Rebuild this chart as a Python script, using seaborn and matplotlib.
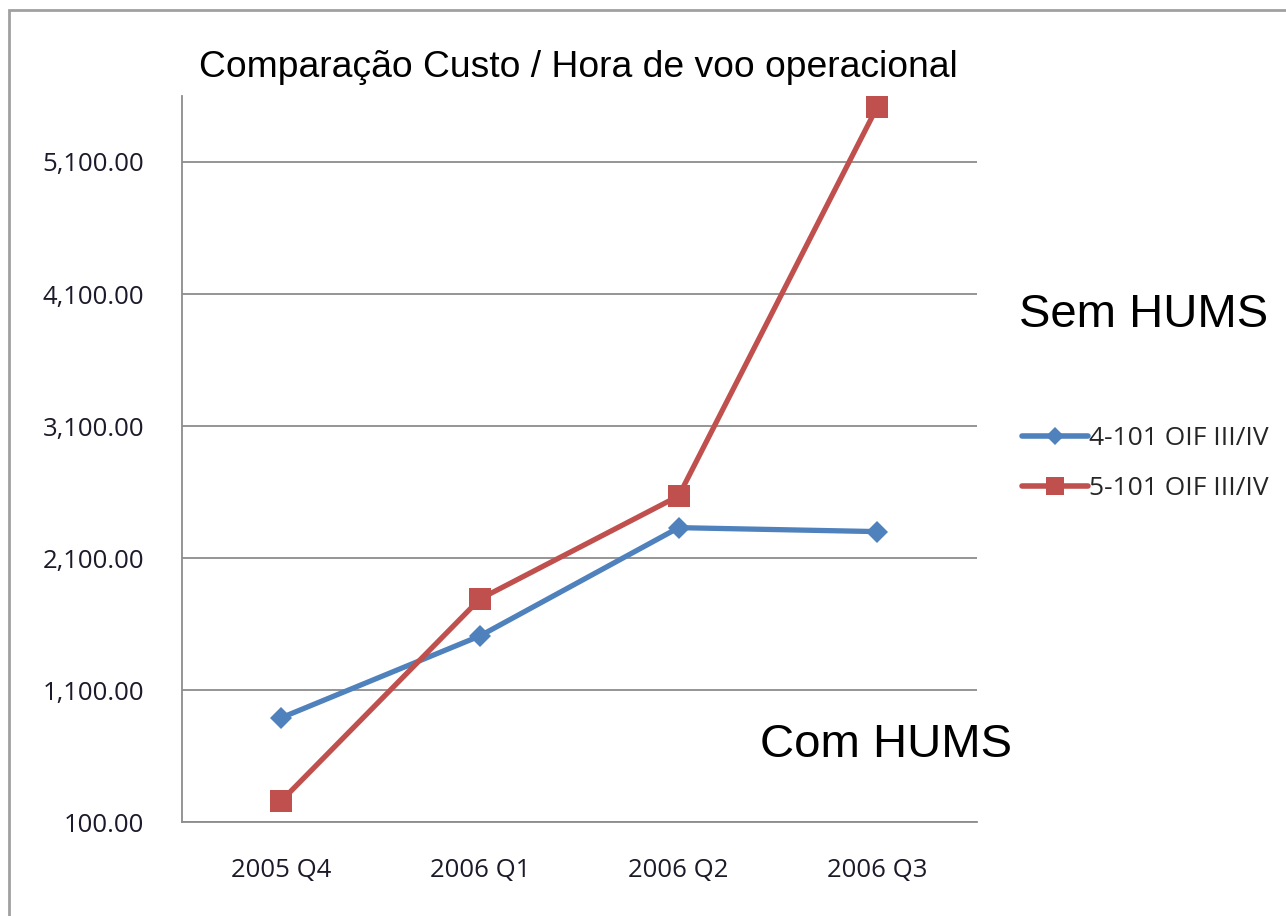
import matplotlib.pyplot as plt
import pandas as pd
import seaborn as sns

# %% data
quarters = ["2005 Q4", "2006 Q1", "2006 Q2", "2006 Q3"]
custo_4101 = [890, 1510, 2330, 2300]
custo_5101 = [260, 1790, 2570, 5520]
yticks = [100, 1100, 2100, 3100, 4100, 5100]

df = pd.DataFrame({
    "quarter": quarters * 2,
    "custo": custo_4101 + custo_5101,
    "unidade": ["4-101 OIF III/IV"] * 4 + ["5-101 OIF III/IV"] * 4,
})

sns.set_style("white")
plt.rcParams["font.family"] = ["Liberation Sans", "DejaVu Sans"]
tick_font = ["Open Sans", "DejaVu Sans"]

fig = plt.figure(figsize=(12.86, 9.16), dpi=100)
ax = fig.add_axes([0.1415, 0.1026, 0.618, 0.7926])

# %% lines
sns.lineplot(data=df, x="quarter", y="custo", hue="unidade", style="unidade",
             markers={"4-101 OIF III/IV": "D", "5-101 OIF III/IV": "s"},
             dashes=False, palette=["#4F81BD", "#C0504D"], linewidth=3.8,
             markersize=16, markeredgewidth=0, ax=ax, sort=False, legend=False)
ax.lines[0].set_markersize(11.5)

ax.set_xlim(-0.5, 3.5)
ax.set_ylim(100, 5600)
ax.set_yticks(yticks)
ax.set_yticklabels([f"{v:,.2f}" for v in yticks], fontsize=18.5,
                   family=tick_font, color="#1a1a2a")
ax.set_xticks(range(len(quarters)))
ax.set_xticklabels(quarters, fontsize=18.5, family=tick_font, color="#1a1a2a")
ax.set_xticks([-0.5, 0.5, 1.5, 2.5, 3.5], minor=True)
ax.tick_params(axis="x", which="major", length=0, pad=26)
ax.tick_params(axis="x", which="minor", length=10, color="#888888", width=1.3)
ax.tick_params(axis="y", length=10, color="#888888", width=1.3, pad=17)
ax.set_xlabel("")
ax.set_ylabel("")
ax.grid(axis="y", color="#8c8c8c", linewidth=1.3)
ax.set_axisbelow(True)
for side in ["top", "right"]:
    ax.spines[side].set_visible(False)
for side in ["left", "bottom"]:
    ax.spines[side].set_color("#8c8c8c")
    ax.spines[side].set_linewidth(1.3)

# %% legend and annotations
handles = [
    plt.Line2D([], [], color="#4F81BD", lw=4, marker="D", markersize=9, markeredgewidth=0),
    plt.Line2D([], [], color="#C0504D", lw=4, marker="s", markersize=13, markeredgewidth=0),
]
ax.legend(handles, ["4-101 OIF III/IV", "5-101 OIF III/IV"],
          loc="center left", bbox_to_anchor=(1.057, 0.494), frameon=False,
          prop={"family": tick_font, "size": 19},
          handlelength=2.5, handletextpad=0.05, labelspacing=0.95,
          borderaxespad=0, borderpad=0)

fig.text(0.45, 0.926, "Comparação Custo / Hora de voo operacional",
         ha="center", va="center", fontsize=26.8, color="black")
fig.text(0.792, 0.656, "Sem HUMS", ha="left", va="center", fontsize=34, color="black")
fig.text(0.591, 0.187, "Com HUMS", ha="left", va="center", fontsize=34, color="black")

# outer border of the chart area
fig.add_artist(plt.Rectangle((0.007, -0.1), 1.2, 1.089, transform=fig.transFigure,
                             fill=False, edgecolor="#a0a0a0", linewidth=2))

fig.savefig("out.png", dpi=100)
